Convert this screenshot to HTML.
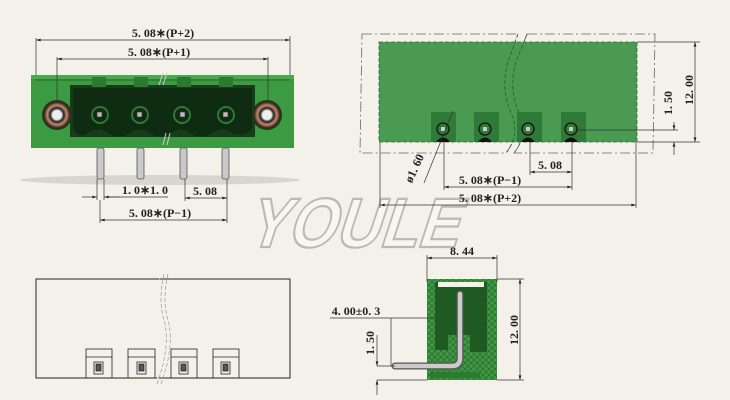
<!DOCTYPE html>
<html><head><meta charset="utf-8"><style>
html,body{margin:0;padding:0;background:#f4f1ea;}
svg{display:block;}
text{font-family:"Liberation Serif",serif;font-weight:bold;fill:#222;}
</style></head><body>
<svg width="730" height="400" viewBox="0 0 730 400" xmlns="http://www.w3.org/2000/svg">
<defs>
<marker id="a" viewBox="0 0 10 6" refX="10" refY="3" markerWidth="8" markerHeight="4" orient="auto-start-reverse"><path d="M0,0L10,3L0,6z" fill="#222"/></marker>
<pattern id="hatch" width="6" height="6" patternUnits="userSpaceOnUse"><rect width="6" height="6" fill="#3f9a43"/><path d="M0,0L6,6M6,0L0,6" stroke="#2a6e2e" stroke-width="0.8"/></pattern>
<radialGradient id="hole"><stop offset="0.3" stop-color="#eee"/><stop offset="0.45" stop-color="#222"/><stop offset="0.65" stop-color="#c58a6a"/><stop offset="0.85" stop-color="#3a2a20"/><stop offset="1" stop-color="#1b3b1c"/></radialGradient>
</defs>
<rect width="730" height="400" fill="#f4f1ea"/>

<!-- watermark -->
<text x="245" y="247" font-size="70" textLength="212" lengthAdjust="spacingAndGlyphs" transform="skewX(-18) translate(80,0)" style="font-family:'Liberation Sans',sans-serif;font-weight:bold;fill:#f8f6f1;stroke:#bdb9b2;stroke-width:2.2">YOULE</text>

<!-- ===== Top-left front view ===== -->
<ellipse cx="160" cy="180" rx="140" ry="5" fill="#d8d5cf"/>
<rect x="31" y="75" width="263" height="73" fill="#3c9a42"/>
<rect x="31" y="75" width="263" height="4" fill="#4aa84e"/>
<line x1="35" y1="80" x2="290" y2="80" stroke="#1f5a22" stroke-width="0.8"/>
<rect x="70" y="85" width="185" height="52" fill="#163d18"/>
<path d="M73,88 H252 V128 Q245,138 232,133 Q223,125 211,134 Q200,140 190,133 Q181,125 170,134 Q160,140 150,133 Q140,125 128,134 Q118,140 108,133 Q98,125 86,134 Q76,138 73,128 Z" fill="#0f2b11"/>
<g fill="#2c7a31"><rect x="92" y="77" width="14" height="10"/><rect x="134" y="77" width="14" height="10"/><rect x="177" y="77" width="14" height="10"/><rect x="219" y="77" width="14" height="10"/></g>
<g fill="none" stroke="#2e7a33" stroke-width="2"><circle cx="100" cy="115" r="8"/><circle cx="140" cy="115" r="8"/><circle cx="182" cy="115" r="8"/><circle cx="226" cy="115" r="8"/></g>
<g fill="#bbb" stroke="#333" stroke-width="0.6"><rect x="97" y="112" width="5" height="5"/><rect x="137" y="112" width="5" height="5"/><rect x="180" y="112" width="5" height="5"/><rect x="223" y="112" width="5" height="5"/></g>
<circle cx="57" cy="115" r="15" fill="url(#hole)"/>
<circle cx="267" cy="115" r="15" fill="url(#hole)"/>
<g fill="#c9c9c9" stroke="#555" stroke-width="0.8"><rect x="97" y="148" width="7" height="31" rx="2"/><rect x="137" y="148" width="7" height="31" rx="2"/><rect x="180" y="148" width="7" height="31" rx="2"/><rect x="222" y="148" width="7" height="31" rx="2"/></g>
<path d="M163,73 l-4,12 M167,73 l-4,12 M166,133 l-3,12 M170,133 l-3,12" stroke="#ccc" stroke-width="1"/>
<g stroke="#333" stroke-width="0.7" fill="none">
<line x1="36" y1="38" x2="36" y2="75"/><line x1="290" y1="36" x2="290" y2="75"/>
<line x1="36" y1="40" x2="290" y2="40" marker-start="url(#a)" marker-end="url(#a)"/>
<line x1="57" y1="57" x2="57" y2="100"/><line x1="268" y1="57" x2="268" y2="100"/>
<line x1="57" y1="59" x2="268" y2="59" marker-start="url(#a)" marker-end="url(#a)"/>
<line x1="97" y1="179" x2="97" y2="200"/><line x1="104" y1="179" x2="104" y2="200"/>
<line x1="82" y1="197" x2="97" y2="197" marker-end="url(#a)"/><line x1="120" y1="197" x2="104" y2="197" marker-end="url(#a)"/>
<line x1="104" y1="197" x2="168" y2="197"/>
<line x1="185" y1="179" x2="185" y2="201"/><line x1="227" y1="179" x2="227" y2="223"/>
<line x1="185" y1="198" x2="227" y2="198" marker-start="url(#a)" marker-end="url(#a)"/>
<line x1="100" y1="200" x2="100" y2="223"/>
<line x1="100" y1="220" x2="227" y2="220" marker-start="url(#a)" marker-end="url(#a)"/>
</g>
<text x="163" y="37" font-size="12" text-anchor="middle">5. 08∗(P+2)</text>
<text x="159" y="56" font-size="12" text-anchor="middle">5. 08∗(P+1)</text>
<text x="145" y="194" font-size="12" text-anchor="middle">1. 0∗1. 0</text>
<text x="205" y="195" font-size="12" text-anchor="middle">5. 08</text>
<text x="160" y="217" font-size="12" text-anchor="middle">5. 08∗(P−1)</text>

<!-- ===== Top-right view ===== -->
<path d="M362,34 H518 L508,62 Q500,90 512,115 Q520,135 506,153 H360 Z" fill="none" stroke="#666" stroke-width="0.8" stroke-dasharray="10,3,2,3"/>
<path d="M527,34 H655 L653,153 H514 Q528,135 520,115 Q508,90 516,62 Z" fill="none" stroke="#666" stroke-width="0.8" stroke-dasharray="10,3,2,3"/>
<rect x="379" y="42" width="258" height="100" fill="#4a9a52"/>
<rect x="379" y="42" width="258" height="100" fill="none" stroke="#2d6a31" stroke-width="0.8" stroke-dasharray="4,2"/>
<path d="M518,34 L508,62 Q500,90 512,115 Q520,135 506,153 M527,34 L516,62 Q508,90 520,115 Q528,135 514,153" fill="none" stroke="#2d5a2f" stroke-width="0.8" stroke-dasharray="4,2"/>
<g fill="#2f7a36"><rect x="431" y="112" width="25" height="30"/><rect x="474" y="112" width="25" height="30"/><rect x="517" y="112" width="25" height="30"/><rect x="561" y="112" width="25" height="30"/></g>
<g fill="none" stroke="#111" stroke-width="1.3"><circle cx="443" cy="129" r="6"/><circle cx="485" cy="129" r="6"/><circle cx="528" cy="129" r="6"/><circle cx="571" cy="129" r="6"/></g>
<g fill="#111"><path d="M436,142 Q443,133 450,142z"/><path d="M478,142 Q485,133 492,142z"/><path d="M521,142 Q528,133 535,142z"/><path d="M564,142 Q571,133 578,142z"/></g>
<g fill="#ccc"><rect x="441" y="127" width="4" height="4"/><rect x="483" y="127" width="4" height="4"/><rect x="526" y="127" width="4" height="4"/><rect x="569" y="127" width="4" height="4"/></g>
<g stroke="#333" stroke-width="0.7" fill="none">
<line x1="637" y1="42" x2="700" y2="42"/><line x1="637" y1="142" x2="700" y2="142"/>
<line x1="695" y1="42" x2="695" y2="142" marker-start="url(#a)" marker-end="url(#a)"/>
<line x1="577" y1="130" x2="678" y2="130"/>
<line x1="674" y1="122" x2="674" y2="130" marker-end="url(#a)"/>
<line x1="674" y1="155" x2="674" y2="142" marker-end="url(#a)"/>
<line x1="424" y1="183" x2="453" y2="111"/>
<line x1="444" y1="142" x2="444" y2="190"/><line x1="530" y1="142" x2="530" y2="175"/><line x1="572" y1="142" x2="572" y2="190"/>
<line x1="530" y1="172" x2="572" y2="172" marker-start="url(#a)" marker-end="url(#a)"/>
<line x1="444" y1="187" x2="572" y2="187" marker-start="url(#a)" marker-end="url(#a)"/>
<line x1="380" y1="142" x2="380" y2="208"/><line x1="636" y1="142" x2="636" y2="208"/>
<line x1="380" y1="205" x2="636" y2="205" marker-start="url(#a)" marker-end="url(#a)"/>
</g>
<text transform="translate(693,90) rotate(-90)" font-size="12" text-anchor="middle">12. 00</text>
<text transform="translate(672,103) rotate(-90)" font-size="12" text-anchor="middle">1. 50</text>
<text transform="translate(418,170) rotate(-65)" font-size="12" text-anchor="middle">ø1. 60</text>
<text x="550" y="169" font-size="12" text-anchor="middle">5. 08</text>
<text x="490" y="184" font-size="12" text-anchor="middle">5. 08∗(P−1)</text>
<text x="490" y="202" font-size="12" text-anchor="middle">5. 08∗(P+2)</text>

<!-- ===== Bottom-left view ===== -->
<rect x="36" y="279" width="254" height="99" fill="none" stroke="#222" stroke-width="1"/>
<path d="M160,275 Q156,300 163,320 Q170,345 157,382" fill="#f4f1ea" stroke="none"/>
<path d="M164,274 Q158,300 164,320 Q171,345 157,384 M168,274 Q162,300 168,320 Q175,345 161,384" fill="none" stroke="#999" stroke-width="0.7" stroke-dasharray="4,2"/>
<g stroke="#222" stroke-width="0.8" fill="none">
<rect x="86" y="349" width="26" height="29"/><line x1="86" y1="357" x2="112" y2="357"/><rect x="94" y="362" width="9" height="12"/><rect x="96" y="364" width="5" height="7" fill="#555"/>
<rect x="128" y="349" width="27" height="29"/><line x1="128" y1="357" x2="155" y2="357"/><rect x="137" y="362" width="9" height="12"/><rect x="139" y="364" width="5" height="7" fill="#555"/>
<rect x="171" y="349" width="26" height="29"/><line x1="171" y1="357" x2="197" y2="357"/><rect x="179" y="362" width="9" height="12"/><rect x="181" y="364" width="5" height="7" fill="#555"/>
<rect x="213" y="349" width="26" height="29"/><line x1="213" y1="357" x2="239" y2="357"/><rect x="221" y="362" width="9" height="12"/><rect x="223" y="364" width="5" height="7" fill="#555"/>
</g>

<!-- ===== Bottom-right side view ===== -->
<rect x="427" y="279" width="70" height="101" fill="url(#hatch)"/>
<path d="M435,282 H487 V352 H470 V335 H448 V350 H435 Z" fill="#1f5a23"/>
<rect x="438" y="282" width="46" height="5" fill="#f4f1ea"/>
<rect x="430" y="372" width="50" height="6" fill="#2a7a2f"/>
<path d="M395,366 H452 Q460,366 460,358 V294" fill="none" stroke="#555" stroke-width="7" stroke-linecap="round"/>
<path d="M395,366 H452 Q460,366 460,358 V294" fill="none" stroke="#ccc" stroke-width="4.5" stroke-linecap="round"/>
<g stroke="#333" stroke-width="0.7" fill="none">
<line x1="427" y1="255" x2="427" y2="282"/><line x1="497" y1="255" x2="497" y2="282"/>
<line x1="427" y1="258" x2="497" y2="258" marker-start="url(#a)" marker-end="url(#a)"/>
<line x1="497" y1="279" x2="524" y2="279"/><line x1="497" y1="380" x2="524" y2="380"/>
<line x1="520" y1="279" x2="520" y2="380" marker-start="url(#a)" marker-end="url(#a)"/>
<line x1="330" y1="318" x2="435" y2="318"/>
<line x1="391" y1="318" x2="391" y2="366"/>
<line x1="377" y1="335" x2="377" y2="366" marker-end="url(#a)"/>
<line x1="377" y1="395" x2="377" y2="380" marker-end="url(#a)"/>
<line x1="377" y1="366" x2="395" y2="366"/><line x1="377" y1="380" x2="427" y2="380"/>
</g>
<text x="462" y="255" font-size="12" text-anchor="middle">8. 44</text>
<text transform="translate(518,330) rotate(-90)" font-size="12" text-anchor="middle">12. 00</text>
<text x="356" y="315" font-size="12" text-anchor="middle">4. 00±0. 3</text>
<text transform="translate(374,343) rotate(-90)" font-size="12" text-anchor="middle">1. 50</text>
</svg>
</body></html>
